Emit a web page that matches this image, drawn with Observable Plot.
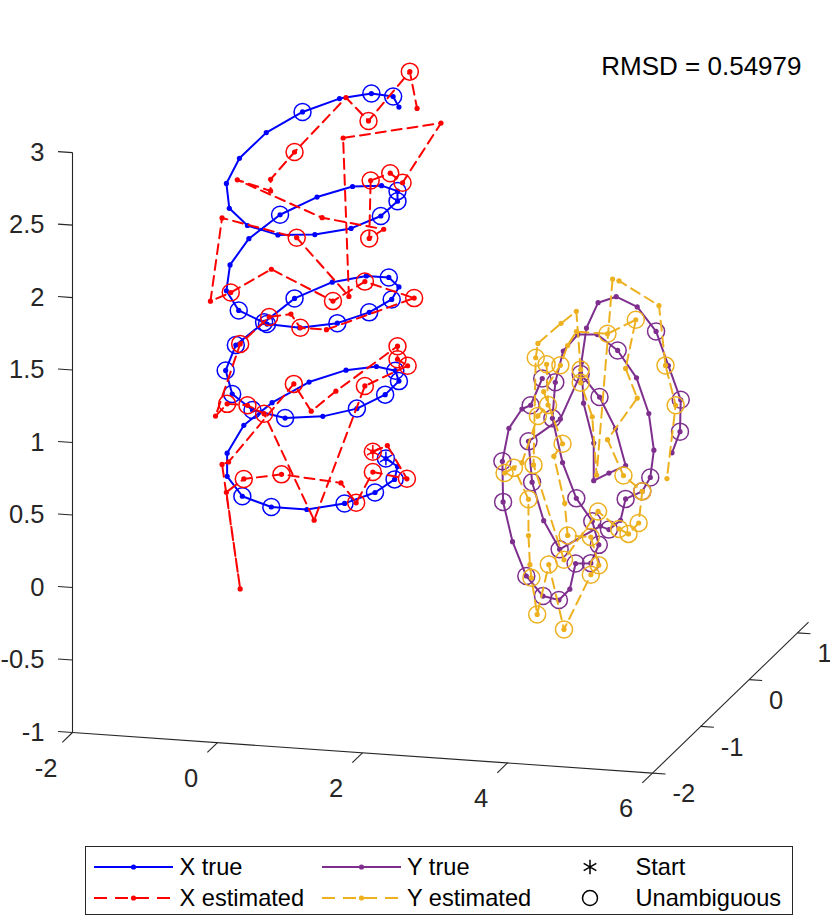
<!DOCTYPE html>
<html><head><meta charset="utf-8">
<script src="https://cdn.jsdelivr.net/npm/d3@7"></script>
<script src="https://cdn.jsdelivr.net/npm/@observablehq/plot@0.6"></script>
<style>
body{margin:0;background:#fff;font-family:"Liberation Sans",Arial,Helvetica,sans-serif;}
#chart svg{display:block;overflow:visible}
#legend{position:relative;margin-left:85px;margin-top:3px;width:706px;height:67px;border:1px solid #262626;background:#fff}
.item{position:absolute;height:28px;line-height:28px;font-size:23.6px;color:#000;white-space:nowrap}
.item svg{position:absolute;top:0;left:0}
</style></head><body>
<div id="chart"></div>
<div id="legend"></div>
<script>
// ---- axis limits and ticks ----
const xLim = [-2, 6], yLim = [-2, 1.23], zLim = [-1, 3];
const xTicks = [-2, 0, 2, 4, 6];
const yTicks = [-2, -1, 0, 1];
const zTicks = [-1, -0.5, 0, 0.5, 1, 1.5, 2, 2.5, 3];
const rmsd = 0.54979;

// ---- X true (blue) ----
const xTrueDepth = 0;
const xTrueX = [0.99,1.15,1.11,0.84,0.42,-0.10,-0.59,-0.99,-1.20,-1.20,-0.97,-0.58,-0.07,0.44,0.86,1.12,1.17,0.98,0.59,0.12,-0.40,-0.85,-1.13,-1.22,-1.08,-0.69,-0.27,0.25,0.72,1.03,1.17,1.07,0.76,0.32,-0.20,-0.65,-1.04,-1.21,-1.16,-0.90,-0.47,0.04,0.53,0.93,1.15,1.15,0.92,0.51,0.01,-0.50,-0.92,-1.17,-1.21,-1.03,-0.66,-0.16,0.35,0.79,1.09,1.17];
const xTrueZ = [0.35,0.30,0.21,0.11,0.02,-0.04,-0.04,0.02,0.15,0.31,0.51,0.68,0.84,0.94,0.98,0.96,0.89,0.79,0.68,0.61,0.58,0.62,0.72,0.88,1.06,1.23,1.41,1.54,1.60,1.60,1.54,1.45,1.35,1.26,1.21,1.22,1.30,1.43,1.61,1.80,1.98,2.12,2.21,2.23,2.20,2.13,2.02,1.92,1.86,1.84,1.89,2.00,2.17,2.35,2.54,2.70,2.81,2.86,2.85,2.78];
const xTrueUnamb = [0,2,3,4,6,7,15,16,17,18,20,21,22,23,24,25,26,29,31,32,33,35,36,40,44,45,46,55,57,58];

// ---- X estimated (red) ----
const xEstDepth = 0;
const xEstX = [0.81,1.01,1.28,0.81,0.58,0.37,-0.45,-0.97,-1.21,-1.02,-1.27,-1.18,-0.28,-0.04,0.30,1.15,1.15,1.29,0.70,0.00,-0.69,-0.92,-1.20,-1.36,-1.02,-0.62,-0.32,-0.19,0.17,1.38,0.70,0.26,-0.59,-1.15,-1.43,-1.27,-0.24,0.48,0.40,1.75,1.22,1.05,0.78,0.76,0.96,0.11,-1.06,-0.60,-0.60,-0.27,0.44,0.75,1.32,1.42];
const xEstZ = [0.39,0.44,0.22,0.25,0.03,0.16,0.19,0.14,0.04,-0.62,0.23,0.25,0.82,0.64,0.79,1.13,1.04,1.00,0.84,-0.11,0.60,0.65,0.65,0.56,1.07,1.27,1.30,1.21,1.21,1.47,1.56,1.41,1.60,1.42,1.35,1.93,1.83,1.45,2.54,2.69,2.26,2.32,2.26,1.86,1.93,1.98,2.20,2.14,2.22,2.42,2.82,2.67,3.03,2.78];
const xEstUnamb = [0,2,3,4,6,7,12,15,16,17,18,20,21,22,24,25,27,29,30,31,33,36,40,41,42,43,49,51,52];

// ---- Y true (purple) ----
const yTrueDepth = -0.5;
const yTrueX = [3.48,3.32,3.20,3.02,2.93,2.94,3.07,3.26,3.49,3.71,3.86,3.94,4.15,4.26,4.17,3.95,3.76,3.62,3.66,3.77,3.97,4.24,4.52,4.78,4.95,5.02,4.97,4.86,4.63,4.56,4.40,4.28,3.72,3.50,3.34,3.29,3.73,4.01,4.27,4.49,4.63,4.40,4.19,4.19,4.05,4.02,4.09,4.25,4.50,4.79,5.05,5.22,5.39,5.38,5.27];
const yTrueZ = [1.15,0.96,0.93,0.79,0.56,0.28,0.01,-0.22,-0.35,-0.37,-0.29,-0.11,-0.10,0.03,0.19,0.34,0.58,0.88,1.13,1.35,1.47,1.48,1.38,1.20,0.96,0.71,0.52,0.42,0.36,0.21,0.14,0.16,-0.02,0.17,0.43,0.71,0.88,1.20,1.05,0.84,0.59,0.53,0.47,0.73,1.00,1.28,1.52,1.70,1.75,1.69,1.53,1.30,1.07,0.85,0.70];
const yTrueUnamb = [0,1,4,5,7,8,9,11,12,13,14,15,17,18,22,26,27,28,30,32,34,35,37,38,50,52,53];

// ---- Y estimated (yellow) ----
const yEstDepth = -0.5;
const yEstX = [3.54,3.56,3.42,3.20,2.96,3.09,3.29,3.29,3.31,3.33,3.41,3.57,3.78,4.15,4.26,4.15,3.83,3.79,3.64,3.76,3.50,3.73,3.83,3.95,4.38,4.77,4.63,4.79,4.38,4.60,4.86,4.81,4.67,4.54,4.25,3.78,3.36,3.39,3.42,3.74,3.95,4.01,4.01,4.17,4.23,4.45,4.54,5.09,5.18,5.32,5.20];
const yEstZ = [1.25,0.97,0.89,0.56,0.48,0.52,0.31,0.06,-0.14,-0.23,-0.48,-0.13,-0.57,-0.18,-0.11,0.08,0.08,0.30,0.62,0.71,1.06,1.25,1.39,1.49,1.49,1.60,1.26,1.06,0.76,0.52,0.42,0.20,0.12,0.15,0.26,-0.09,0.55,1.29,1.39,1.54,1.63,1.23,1.14,0.91,0.51,1.87,1.86,1.71,1.30,1.03,0.52];
const yEstUnamb = [1,2,4,5,6,9,10,11,12,13,14,15,16,19,21,24,25,29,30,31,32,33,34,35,36,37,41,42,48,49];

// ---- view (orthographic, MATLAB-like) ----
const view = {azimuth: 15.06, elevation: 15.09};
const az = view.azimuth * Math.PI / 180, el = view.elevation * Math.PI / 180;
function project(x, y, z) {
  const X = (x - xLim[0]) / (xLim[1] - xLim[0]);
  const Y = (y - yLim[0]) / (yLim[1] - yLim[0]);
  const Z = (z - zLim[0]) / (zLim[1] - zLim[0]);
  return {
    u: X * Math.cos(az) + Y * Math.sin(az),
    v: -X * Math.sin(az) * Math.sin(el) + Y * Math.cos(az) * Math.sin(el) + Z * Math.cos(el)
  };
}
function rows(xs, depth, zs, unamb) {
  return xs.map((x, i) => ({...project(x, depth, zs[i]), unamb: unamb.includes(i), start: i === 0}));
}
const blue = rows(xTrueX, xTrueDepth, xTrueZ, xTrueUnamb);
const red = rows(xEstX, xEstDepth, xEstZ, xEstUnamb);
const purple = rows(yTrueX, yTrueDepth, yTrueZ, yTrueUnamb);
const yellow = rows(yEstX, yEstDepth, yEstZ, yEstUnamb);

function seg(a, b) { const p = project(...a), q = project(...b); return {u1: p.u, v1: p.v, u2: q.u, v2: q.v}; }
const axisSegs = [
  seg([xLim[0], yLim[0], zLim[0]], [xLim[1], yLim[0], zLim[0]]),
  seg([xLim[1], yLim[0], zLim[0]], [xLim[1], yLim[1], zLim[0]]),
  seg([xLim[0], yLim[0], zLim[0]], [xLim[0], yLim[0], zLim[1]])
];
const tickSegs = [
  ...xTicks.map(t => seg([t, yLim[0], zLim[0]], [t, yLim[0] - 0.21, zLim[0]])),
  ...yTicks.map(t => seg([xLim[1], t, zLim[0]], [xLim[1] + 0.18, t, zLim[0]])),
  ...zTicks.map(t => seg([xLim[0], yLim[0], t], [xLim[0] - 0.2, yLim[0], t]))
];
const xLab = xTicks.map(t => ({...project(t, yLim[0], zLim[0]), t}));
const yLab = yTicks.map(t => ({...project(xLim[1], t, zLim[0]), t}));
const zLab = zTicks.map(t => ({...project(xLim[0], yLim[0], t), t}));

const L = 600.6;
const AX = "#262626";
const dash = "10,6";
function series(data, color, dashed) {
  return [
    Plot.line(data, {x: "u", y: "v", stroke: color, strokeWidth: 2, strokeDasharray: dashed ? dash : null}),
    Plot.dot(data, {x: "u", y: "v", r: 2.6, fill: color, stroke: null}),
    Plot.dot(data.filter(d => d.unamb || d.start), {x: "u", y: "v", r: 8.5, stroke: color, strokeWidth: 1.5, fill: "none"})
  ];
}
const chart = Plot.plot({
  width: 830, height: 843, margin: 0,
  x: {domain: [0, 1], range: [72, 72 + L], axis: null},
  y: {domain: [0, 1], range: [732, 732 - L], axis: null},
  style: {fontFamily: '"Liberation Sans", Arial, Helvetica, sans-serif', background: "white", overflow: "visible"},
  marks: [
    Plot.link(axisSegs, {x1: "u1", y1: "v1", x2: "u2", y2: "v2", stroke: AX, strokeWidth: 1.1}),
    Plot.link(tickSegs, {x1: "u1", y1: "v1", x2: "u2", y2: "v2", stroke: AX, strokeWidth: 1.1}),
    Plot.text(xLab, {x: "u", y: "v", text: d => String(d.t), dx: -26.5, dy: 36, fontSize: 25.5, fill: AX, textAnchor: "middle"}),
    Plot.text(yLab, {x: "u", y: "v", text: d => String(d.t), dx: 20, dy: 21, fontSize: 25.5, fill: AX, textAnchor: "start"}),
    Plot.text(zLab, {x: "u", y: "v", text: d => String(d.t), dx: -28, dy: 0, fontSize: 25.5, fill: AX, textAnchor: "end"}),
    ...series(blue, "#0000ff", false),
    Plot.dot(blue.filter(d => d.start), {x: "u", y: "v", symbol: "asterisk", r: 6.5, stroke: "#0000ff", strokeWidth: 1.5}),
    ...series(red, "#ff0000", true),
    Plot.dot(red.filter(d => d.start), {x: "u", y: "v", symbol: "asterisk", r: 6.5, stroke: "#ff0000", strokeWidth: 1.5}),
    ...series(purple, "#7e2f8e", false),
    ...series(yellow, "#edb120", true),
    Plot.text([rmsd], {frameAnchor: "top-right", text: d => `RMSD = ${d}`, dx: -29, dy: 66, lineAnchor: "middle", textAnchor: "end", fontSize: 26, fill: "#000"})
  ]
});
document.getElementById("chart").appendChild(chart);

// ---- legend ----
const legendItems = [
  {label: "X true", color: "#0000ff", dashed: false, left: 7, textLeft: 93.5, row: 0},
  {label: "X estimated", color: "#ff0000", dashed: true, left: 7, textLeft: 93.5, row: 1},
  {label: "Y true", color: "#7e2f8e", dashed: false, left: 235, textLeft: 321, row: 0},
  {label: "Y estimated", color: "#edb120", dashed: true, left: 235, textLeft: 321, row: 1},
  {label: "Start", marker: "star", left: 489.5, textLeft: 549.5, row: 0},
  {label: "Unambiguous", marker: "circle", left: 489.5, textLeft: 549.5, row: 1}
];
const rowTop = [6, 37];
const lg = document.getElementById("legend");
const star = d3.symbol(d3.symbolAsterisk, 150)();
for (const it of legendItems) {
  const sample = document.createElement("div");
  sample.className = "item";
  sample.style.left = it.left + "px";
  sample.style.top = rowTop[it.row] + "px";
  let svg;
  if (it.marker === "star") {
    svg = `<svg width="28" height="28"><path d="${star}" transform="translate(14,14)" fill="none" stroke="#000" stroke-width="1.5"/></svg>`;
  } else if (it.marker === "circle") {
    svg = `<svg width="28" height="28"><circle cx="14" cy="14" r="7.5" fill="none" stroke="#000" stroke-width="1.5"/></svg>`;
  } else {
    svg = `<svg width="82" height="28"><line x1="1" y1="14" x2="80" y2="14" stroke="${it.color}" stroke-width="2" ${it.dashed ? 'stroke-dasharray="13,8"' : ""}/><circle cx="40.5" cy="14" r="2.6" fill="${it.color}"/></svg>`;
  }
  sample.innerHTML = svg;
  lg.appendChild(sample);
  const txt = document.createElement("div");
  txt.className = "item";
  txt.style.left = it.textLeft + "px";
  txt.style.top = rowTop[it.row] + "px";
  txt.textContent = it.label;
  lg.appendChild(txt);
}
</script>
</body></html>
